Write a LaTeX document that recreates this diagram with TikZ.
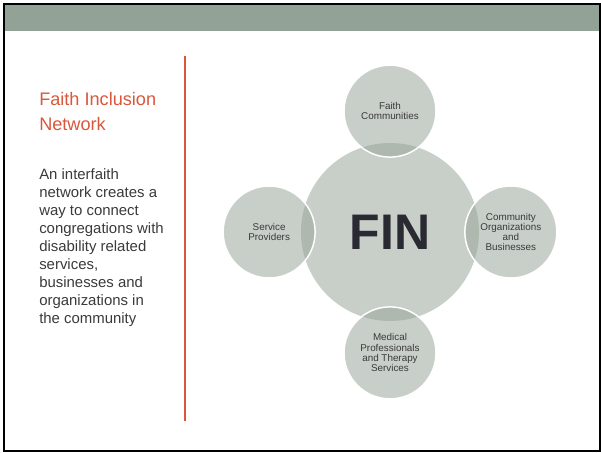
\documentclass[tikz,border=0pt]{standalone}
\usepackage{fontspec}
\setmainfont{Liberation Sans}
\usetikzlibrary{positioning}
\definecolor{bannergray}{HTML}{92A296}
\definecolor{finred}{HTML}{D9573B}
\definecolor{discfill}{HTML}{C8CFC9}
\definecolor{lensfill}{HTML}{AEB8AF}
\definecolor{textdark}{HTML}{3A3A3A}
\definecolor{findark}{HTML}{2A2A33}
\tikzset{
  hub/.style={circle, fill=discfill, minimum size=133.5pt, inner sep=0pt,
              text=findark, font=\fontsize{37.5}{40}\selectfont\bfseries},
  spoke/.style={circle, fill=discfill, minimum size=69pt, inner sep=0pt,
                align=center, text=textdark, font=\fontsize{7.4}{7.7}\selectfont},
  rim/.style={draw=white, line width=1.1pt},
}

\begin{document}
\begin{tikzpicture}[x=0.75pt, y=-0.75pt]
    \useasboundingbox (0,0) rectangle (601,453);
    % slide frame and banner
    \fill[bannergray] (5,5) rectangle (600,31);
    \draw[line width=1.5pt] (4,4) rectangle (600,451);

    % left column
    \node[anchor=north west, inner sep=0pt, text=finred, align=left,
          font=\fontsize{13.6}{18.75}\selectfont] (title) at (39,92.5)
      {Faith Inclusion\\Network};
    \node[anchor=north west, inner sep=0pt, text=textdark, align=left,
          font=\fontsize{11.2}{13.45}\selectfont] (blurb) at (39,168.5)
      {An interfaith\\network creates a\\way to connect\\congregations with\\disability related\\services,\\businesses and\\organizations in\\the community};
    \draw[finred, line width=0.8pt] (185,56) -- (185,421);

    % hub and spokes
    \node[hub] (hub) at (390,232) {FIN};
    \node[spoke, above=-11pt of hub] (faith) {Faith\\Communities};
    \node[spoke, left=-11pt of hub] (service) {Service\\Providers};
    \node[spoke, right=-11pt of hub] (community) {Community\\Organizations\\and\\Businesses};
    \node[spoke, below=-11pt of hub] (medical) {Medical\\Professionals\\and Therapy\\Services};

    % darker overlaps, then white rims
    \foreach \s in {faith, service, community, medical} {
      \begin{scope}
        \clip (\s.center) circle[radius=34.5pt];
        \fill[lensfill] (hub.center) circle[radius=66.75pt];
      \end{scope}
      \draw[rim] (\s.center) circle[radius=34.5pt];
    }
  \end{tikzpicture}
\end{document}
